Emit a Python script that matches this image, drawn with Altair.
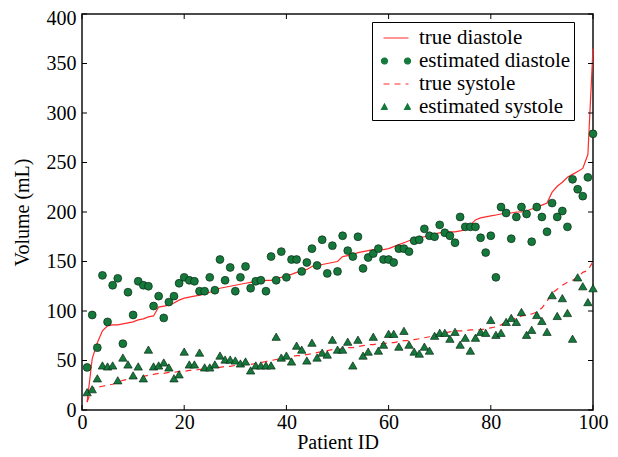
import altair as alt
import pandas as pd

# ---------------- data ----------------
patient_id = list(range(1, 101))

true_diastole = [
    8, 52, 68, 80, 85, 86, 86, 87, 88, 89,
    91, 92, 94, 95, 104, 105, 106, 108, 111, 113,
    114, 115, 116, 117, 119, 121, 123, 124, 125, 126,
    127, 128, 129, 129, 130, 131, 131, 133, 134, 136,
    137, 139, 140, 142, 145, 146, 147, 148, 149, 150,
    155, 156, 157, 159, 160, 161, 162, 162, 162, 163,
    165, 167, 169, 171, 173, 174, 175, 176, 178, 179,
    180, 180, 180, 181, 182, 187, 192, 194, 195, 196,
    197, 198, 199, 199, 200, 200, 201, 203, 205, 207,
    209, 220, 226, 230, 235, 238, 241, 244, 258, 365,
]

est_diastole = [
    43, 96, 63, 136, 89, 126, 133, 67, 119, 96,
    130, 126, 125, 105, 115, 93, 109, 115, 128, 134,
    131, 130, 120, 120, 134, 121, 152, 131, 144, 120,
    134, 145, 123, 130, 131, 120, 155, 131, 160, 134,
    152, 152, 140, 149, 163, 146, 172, 138, 166, 140,
    176, 161, 155, 175, 143, 154, 158, 163, 152, 152,
    149, 163, 163, 160, 171, 172, 183, 176, 175, 187,
    179, 176, 169, 195, 185, 185, 185, 174, 159, 176,
    134, 205, 199, 173, 195, 205, 198, 170, 205, 195,
    180, 209, 195, 201, 185, 233, 223, 216, 235, 279,
]

true_systole = [
    8, 22, 23, 24, 25, 26, 28, 30, 31, 32,
    33, 34, 35, 36, 37, 37, 38, 38, 39, 39,
    40, 40, 41, 41, 42, 43, 43, 44, 44, 45,
    45, 46, 46, 47, 48, 49, 50, 51, 52, 53,
    54, 55, 55, 56, 57, 58, 59, 60, 61, 61,
    62, 63, 63, 64, 65, 66, 66, 67, 67, 68,
    68, 69, 70, 70, 71, 72, 73, 74, 76, 77,
    78, 79, 80, 80, 80, 81, 81, 81, 82, 83,
    84, 86, 89, 91, 93, 95, 96, 97, 99, 103,
    110, 118, 122, 126, 129, 131, 134, 139, 141, 150,
]

est_systole = [
    18, 21, 32, 45, 44, 45, 30, 53, 46, 35,
    44, 32, 61, 44, 45, 48, 43, 32, 36, 59,
    46, 46, 58, 43, 43, 46, 55, 51, 51, 50,
    47, 49, 40, 45, 45, 45, 45, 74, 53, 55,
    49, 65, 61, 50, 68, 53, 58, 56, 71, 61,
    61, 69, 45, 71, 55, 59, 74, 60, 66, 77,
    77, 64, 80, 66, 59, 57, 64, 60, 75, 78,
    78, 72, 79, 66, 73, 60, 73, 79, 78, 91,
    76, 78, 89, 93, 89, 99, 76, 81, 96, 90,
    79, 116, 95, 113, 98, 72, 134, 125, 109, 123,
]

series_names = ["true diastole", "estimated diastole", "true systole", "estimated systole"]
series_colors = ["#ff2a2a", "#15793c", "#ff2a2a", "#15793c"]

x_ticks = [0, 20, 40, 60, 80, 100]
y_ticks = [0, 50, 100, 150, 200, 250, 300, 350, 400]

# ---------------- tables ----------------
rows = []
for name, vals in zip(series_names, [true_diastole, est_diastole, true_systole, est_systole]):
    for pid, v in zip(patient_id, vals):
        rows.append({"pid": pid, "vol": v, "series": name})
df = pd.DataFrame(rows)
xt = pd.DataFrame({"t": x_ticks})
yt = pd.DataFrame({"t": y_ticks})

W, H = 511, 396
FONT = "'Liberation Serif', 'DejaVu Serif', serif"

# legend glyphs (matplotlib style: short line, or two markers)
LINE_PATH = "M-1.04,0L1.04,0"
CIRC_PATH = ("M-1.21,0a0.25,0.25 0 1,0 0.5,0a0.25,0.25 0 1,0 -0.5,0Z"
             "M0.71,0a0.25,0.25 0 1,0 0.5,0a0.25,0.25 0 1,0 -0.5,0Z")
TRI_PATH = "M-1.21,0.21L-0.71,0.21L-0.96,-0.25ZM0.71,0.21L1.21,0.21L0.96,-0.25Z"
legend_shapes = [LINE_PATH, CIRC_PATH, LINE_PATH, TRI_PATH]
legend_dashes = [[1, 0], [1, 0], [6, 5], [1, 0]]


def make_legend():
    return alt.Legend(
        title=None,
        orient="none",
        legendX=290,
        legendY=8,
        strokeColor="black",
        fillColor="white",
        padding=3,
        rowPadding=0,
        symbolSize=576,
        symbolStrokeWidth=1.2,
        labelFont=FONT,
        labelFontSize=21,
        labelColor="black",
        labelOffset=10,
        symbolOffset=8,
    )


color_scale = alt.Scale(domain=series_names, range=series_colors)

x_enc = alt.X(
    "pid:Q",
    scale=alt.Scale(domain=[0, 100], nice=False, zero=False),
    axis=alt.Axis(values=x_ticks, title="Patient ID", labelFlush=False,
                  labelPadding=2, titlePadding=0),
)
y_enc = alt.Y(
    "vol:Q",
    scale=alt.Scale(domain=[0, 400], nice=False),
    axis=alt.Axis(values=y_ticks, title="Volume (mL)", labelPadding=6,
                  titlePadding=14,
                  labelOffset={"condition": {"test": "datum.value === 400", "value": 4},
                               "value": 0}),
)


def color_enc():
    return alt.Color("series:N", scale=color_scale, legend=make_legend())


base = alt.Chart(df)

line_d = base.transform_filter(alt.datum.series == "true diastole").mark_line(
    strokeWidth=1.2
).encode(x=x_enc, y=y_enc, color=color_enc(), order="pid:Q")

line_s = base.transform_filter(alt.datum.series == "true systole").mark_line(
    strokeWidth=1.2, strokeDash=[6, 5]
).encode(x=x_enc, y=y_enc, color=color_enc(), order="pid:Q")

pts_d = base.transform_filter(alt.datum.series == "estimated diastole").mark_point(
    shape="circle", filled=True, size=62, stroke="#0b2a16", strokeWidth=0.7, opacity=1
).encode(x=x_enc, y=y_enc, color=color_enc())

pts_s = base.transform_filter(alt.datum.series == "estimated systole").mark_point(
    shape="triangle-up", filled=True, size=70, stroke="#0b2a16", strokeWidth=0.7, opacity=1
).encode(x=x_enc, y=y_enc, color=color_enc())

# legend-only layer (no rows drawn), carrying the legend's glyph scales
legend_layer = base.transform_filter("false").mark_point(filled=True, opacity=1).encode(
    x=x_enc, y=y_enc,
    color=color_enc(),
    shape=alt.Shape("series:N", scale=alt.Scale(domain=series_names, range=legend_shapes),
                    legend=make_legend()),
    strokeDash=alt.StrokeDash("series:N", scale=alt.Scale(domain=series_names, range=legend_dashes),
                              legend=make_legend()),
)

# inward ticks on all four sides
tick_x_bottom = alt.Chart(xt).mark_rule(color="black", strokeWidth=1).encode(
    x=alt.X("t:Q", scale=alt.Scale(domain=[0, 100], nice=False)),
    y=alt.value(H), y2=alt.value(H - 5))
tick_x_top = alt.Chart(xt).mark_rule(color="black", strokeWidth=1).encode(
    x=alt.X("t:Q", scale=alt.Scale(domain=[0, 100], nice=False)),
    y=alt.value(0), y2=alt.value(5))
tick_y_left = alt.Chart(yt).mark_rule(color="black", strokeWidth=1).encode(
    y=alt.Y("t:Q", scale=alt.Scale(domain=[0, 400], nice=False)),
    x=alt.value(0), x2=alt.value(5))
tick_y_right = alt.Chart(yt).mark_rule(color="black", strokeWidth=1).encode(
    y=alt.Y("t:Q", scale=alt.Scale(domain=[0, 400], nice=False)),
    x=alt.value(W), x2=alt.value(W - 5))

chart = alt.layer(
    line_d, pts_d, line_s, pts_s, legend_layer,
    tick_x_bottom, tick_x_top, tick_y_left, tick_y_right,
).properties(
    width=W,
    height=H,
    autosize=alt.AutoSizeParams(type="none"),
    padding={"left": 74, "top": 6, "right": 17, "bottom": 45},
).configure(
    font=FONT
).configure_view(
    stroke="#111111", strokeWidth=1.5
).configure_axis(
    labelFont=FONT, titleFont=FONT, labelFontSize=20, titleFontSize=20,
    labelColor="black", titleColor="black", titleFontWeight="normal",
    ticks=False, domain=False, grid=False,
)

chart.save("out.html", embed_options={"renderer": "svg", "actions": False})
